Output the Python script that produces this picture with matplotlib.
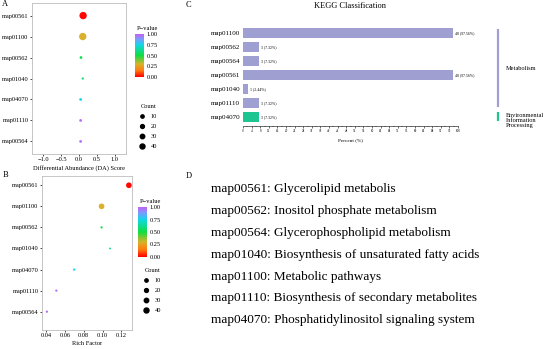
import matplotlib
matplotlib.use("Agg")
import matplotlib.pyplot as plt
import numpy as np
from matplotlib.colors import LinearSegmentedColormap
from matplotlib.lines import Line2D

plt.rcParams['font.family'] = ['Liberation Serif', 'DejaVu Serif']

# ---- data ----
pathways = ["map00561", "map01100", "map00562", "map01040",
            "map04070", "map01110", "map00564"]
counts = [40, 40, 3, 1, 3, 3, 3]
pvalues = [0.01, 0.30, 0.52, 0.60, 0.75, 0.97, 0.97]
da_score = [0.11, 0.10, 0.05, 0.10, 0.04, 0.04, 0.04]
rich_factor = [0.128, 0.099, 0.099, 0.108, 0.070, 0.051, 0.041]

kegg_ids = ["map01100", "map00562", "map00564", "map00561",
            "map01040", "map01110", "map04070"]
kegg_counts = [40, 3, 3, 40, 1, 3, 3]
kegg_percent = [97.56, 7.32, 7.32, 97.56, 2.44, 7.32, 7.32]
kegg_class = ["Metabolism"] * 6 + ["Environmental\nInformation\nProcessing"]

legend_counts = [10, 20, 30, 40]

descriptions = [
    "map00561: Glycerolipid metabolis",
    "map00562: Inositol phosphate metabolism",
    "map00564: Glycerophospholipid metabolism",
    "map01040: Biosynthesis of unsaturated fatty acids",
    "map01100: Metabolic pathways",
    "map01110: Biosynthesis of secondary metabolites",
    "map04070: Phosphatidylinositol signaling system",
]

W, H = 550, 349
fig = plt.figure(figsize=(W / 100, H / 100), dpi=100)


def px_axes(l, t, r, b):
    # place an axes using pixel coordinates measured from top-left
    return fig.add_axes([l / W, 1 - b / H, (r - l) / W, (b - t) / H])


cmap = LinearSegmentedColormap.from_list(
    "pv", [(0.0, "#ff0000"), (0.15, "#ff7a10"), (0.30, "#d8b22a"),
           (0.50, "#10dd40"), (0.75, "#10d8e6"), (0.88, "#7a9cff"),
           (1.0, "#c462f2")])

grey = "#bdbdbd"
fs = 4.6


def bubble_panel(ax, xvals, sizes, xlabel, xticks, xlim, ylim):
    y = np.arange(len(pathways))
    sc = ax.scatter(xvals, y, s=sizes, c=pvalues, cmap=cmap, vmin=0, vmax=1,
                    edgecolors="none", zorder=3)
    ax.set_yticks(y)
    ax.set_yticklabels(pathways, fontsize=fs)
    ax.set_xticks(xticks)
    ax.tick_params(axis="both", labelsize=fs, length=1.5, width=0.5, pad=1)
    ax.set_xlim(*xlim)
    ax.set_ylim(*ylim)
    ax.set_xlabel(xlabel, fontsize=fs, labelpad=2)
    for s in ax.spines.values():
        s.set_color(grey)
        s.set_linewidth(0.6)
    return sc


def side_legend(sc, cb_box, leg_anchor, msizes):
    l, t, r, b = cb_box
    cax = px_axes(*cb_box)
    cb = fig.colorbar(sc, cax=cax, ticks=[0, 0.25, 0.5, 0.75, 1.0])
    cb.ax.set_yticklabels(["0.00", "0.25", "0.50", "0.75", "1.00"])
    cb.ax.tick_params(labelsize=fs, length=0, pad=2)
    cb.outline.set_visible(False)
    fig.text((l + 2) / W, 1 - (t - 5) / H, "P\u2212value", fontsize=fs,
             ha="left", va="center")
    handles = [Line2D([], [], marker="o", ls="", color="black", markersize=m)
               for m in msizes]
    fig.legend(handles, [str(c) for c in legend_counts], title="Count",
               loc="upper left", bbox_to_anchor=(leg_anchor[0] / W, 1 - leg_anchor[1] / H),
               frameon=False, fontsize=fs, title_fontsize=fs, labelspacing=0.7,
               handletextpad=0.8, borderpad=0, handlelength=1)


# ---- panel A ----
axA = px_axes(32, 3, 126, 154)
scA = bubble_panel(axA, da_score, [2 + 0.65 * c for c in counts],
                   "Differential Abundance (DA) Score",
                   [-1.0, -0.5, 0.0, 0.5, 1.0], (-1.32, 1.31), (6.6, -0.6))
side_legend(scA, (135, 34, 144, 77), (136, 101), [2.4, 2.8, 3.2, 3.6])
fig.text(2 / W, 1 - 4 / H, "A", fontsize=6, va="center")

# ---- panel B ----
axB = px_axes(42, 176, 132, 330)
scB = bubble_panel(axB, rich_factor, [1.5 + 0.38 * c for c in counts],
                   "Rich Factor", [0.04, 0.06, 0.08, 0.10, 0.12],
                   (0.0358, 0.1313), (6.87, -0.44))
side_legend(scB, (138, 207, 147, 257), (140, 265), [2.4, 2.8, 3.2, 3.6])
fig.text(3 / W, 1 - 175 / H, "B", fontsize=6, va="center")

# ---- panel C ----
axC = px_axes(243, 25, 458, 126)
yc = np.arange(len(kegg_ids))
bar_colors = ["#9f9fd2" if c == "Metabolism" else "#1fc591" for c in kegg_class]
axC.barh(yc, kegg_percent, height=0.72, color=bar_colors)
for yi, n, p in zip(yc, kegg_counts, kegg_percent):
    axC.text(p + 1, yi, f"{n} ({p:.2f}%)", fontsize=2.8, va="center")
axC.set_ylim(len(kegg_ids) - 0.33, -0.6)
axC.set_xlim(0, 100)
axC.set_yticks(yc)
axC.set_yticklabels(kegg_ids, fontsize=5)
axC.set_xticks(np.arange(0, 101, 4))
axC.set_xticks(np.arange(0, 101, 2), minor=True)
axC.tick_params(axis="x", labelsize=2.3, length=1.5, width=0.4, pad=1)
axC.tick_params(axis="x", which="minor", length=1, width=0.3)
axC.tick_params(axis="y", length=0, pad=2)
for side in ["top", "right", "left"]:
    axC.spines[side].set_visible(False)
axC.spines["bottom"].set_linewidth(0.4)
axC.set_xlabel("Percent (%)", fontsize=3.8, labelpad=3)
axC.set_title("KEGG Classification", fontsize=6, pad=12)

# category brackets on the right
groups = []
for i, c in enumerate(kegg_class):
    if groups and groups[-1][0] == c:
        groups[-1][2] = i
    else:
        groups.append([c, i, i])
trans = axC.get_yaxis_transform()
for name, i0, i1 in groups:
    col = "#9f9fd2" if name == "Metabolism" else "#1fc591"
    axC.plot([1.186, 1.186], [i0 - 0.33, i1 + 0.33], color=col, lw=1.6,
             transform=trans, clip_on=False, solid_capstyle="butt")
    axC.text(1.22, (i0 + i1) / 2 + (0.3 if i0 == i1 else 0), name,
             transform=trans, fontsize=4.6, va="center", ha="left",
             linespacing=1.0)
fig.text(186 / W, 1 - 5 / H, "C", fontsize=6, va="center")

# ---- panel D ----
fig.text(186 / W, 1 - 176 / H, "D", fontsize=6, va="center")
for i, line in enumerate(descriptions):
    fig.text(211 / W, 1 - (189 + 21.9 * i) / H, line, fontsize=9.5, va="center")

fig.savefig("out.png", dpi=100)
